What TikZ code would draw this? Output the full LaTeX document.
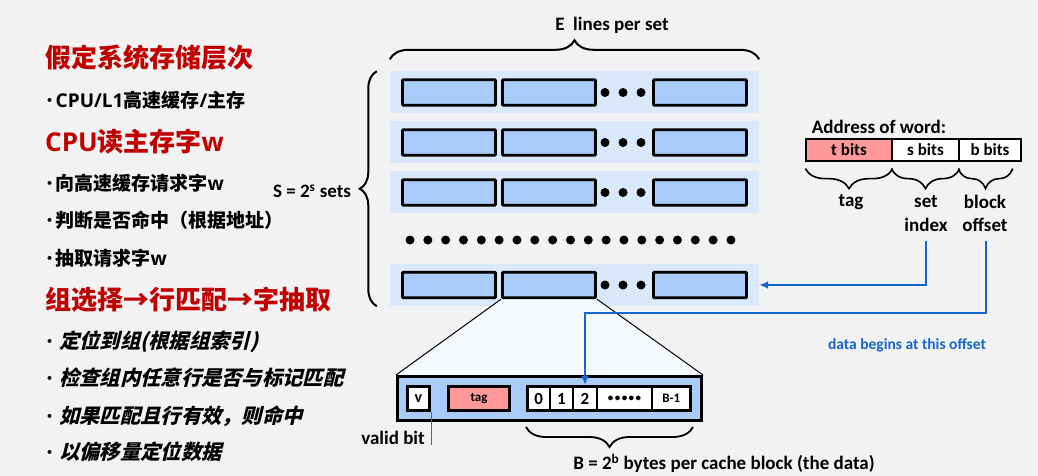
\documentclass[tikz,border=0pt]{standalone}
\usepackage{fontspec}
\setmainfont{Carlito}
\newfontfamily\cjk{Noto Sans CJK SC}
\newfontfamily\cjkit{Noto Sans CJK SC}[FakeSlant=0.25]
\newfontfamily\lat{Open Sans}
\newfontfamily\dvs{DejaVu Sans}
\usetikzlibrary{decorations.pathreplacing,arrows.meta,calc}
\definecolor{pagebg}{RGB}{242,242,242}
\definecolor{rowfill}{RGB}{218,232,252}
\definecolor{cellfill}{RGB}{169,203,248}
\definecolor{pinkfill}{RGB}{255,153,153}
\definecolor{ttl}{RGB}{192,0,0}
\definecolor{arw}{RGB}{21,101,204}
\definecolor{trapfill}{RGB}{246,250,255}
\pgfdeclarelayer{back}
\pgfdeclarelayer{mid}
\pgfsetlayers{back,mid,main}
\newcommand{\bdot}{\raisebox{3.2pt}{\dvs\fontsize{11}{11}\selectfont •}\hspace{2.5pt}}
\newcommand{\bdotit}{\raisebox{3.2pt}{\dvs\fontsize{11}{11}\selectfont •}\hspace{6pt}}
\begin{document}
\begin{tikzpicture}[x=1pt,y=-1pt,
  rowbg/.style={fill=rowfill,minimum width=369pt,minimum height=42pt,inner sep=0pt},
  rowbox/.style={draw=black,line width=2.9pt,fill=cellfill,rounded corners=1pt,minimum width=93pt,minimum height=25.5pt,inner sep=0pt},
  dotc/.style={circle,fill=black,minimum size=9pt,inner sep=0pt},
  lbl/.style={font=\fontsize{19}{22}\selectfont\bfseries,inner sep=0pt},
  addr/.style={draw=black,line width=1.3pt,minimum height=22pt,inner sep=0pt,font=\fontsize{17}{20}\selectfont\bfseries},
  cellc/.style={draw=black,line width=2.8pt,fill=white,minimum height=24.4pt,inner sep=0pt},
  brc/.style={decorate,decoration={brace,amplitude=#1},line width=2pt},
  brc/.default=19pt,
  arwline/.style={draw=arw,line width=2.6pt,-{Latex[length=9pt,width=8pt]}},
  ttlt/.style={anchor=west,inner sep=0pt,text=ttl,font=\cjk\fontsize{26}{28}\selectfont\bfseries},
  bodyt/.style={anchor=west,inner sep=0pt,font=\cjk\fontsize{19}{22}\selectfont\bfseries},
  itt/.style={anchor=west,inner sep=0pt,font=\cjkit\fontsize{20.3}{22}\selectfont\bfseries}
]
\begin{pgfonlayer}{back}
\fill[pagebg] (0,0) rectangle (1038,476);
\end{pgfonlayer}
\useasboundingbox (0,0) rectangle (1038,476);

% ---------- left text ----------
\node[ttlt] (t1) at (45,58) {假定系统存储层次};
\node[bodyt] (t2) at (46,100) {\bdot{\lat CPU/L1}高速缓存{\lat /}主存};
\node[ttlt] (t3) at (45,142) {{\lat CPU}读主存字{\lat w}};
\node[bodyt] (t4) at (46,183) {\bdot 向高速缓存请求字{\lat w}};
\node[bodyt] (t5) at (46,220) {\bdot 判断是否命中（根据地址）};
\node[bodyt] (t6) at (46,258) {\bdot 抽取请求字{\lat w}};
\node[ttlt] (t7) at (45,300) {组选择→行匹配→字抽取};
\node[itt] (t8) at (46,342) {\bdotit 定位到组(根据组索引)};
\node[itt] (t9) at (46,378) {\bdotit 检查组内任意行是否与标记匹配};
\node[itt] (t10) at (46,416) {\bdotit 如果匹配且行有效，则命中};
\node[itt] (t11) at (46,452) {\bdotit 以偏移量定位数据};

% ---------- cache sets ----------
\begin{pgfonlayer}{back}
\foreach \n/\y in {1/92.5,2/142,3/192,4/285}{
  \node[rowbg] (bg\n) at (574.5,\y) {};
}
\end{pgfonlayer}
\foreach \n/\y in {1/92.5,2/142.5,3/192.5,4/285}{
  \node[rowbox] (a\n) at (449,\y) {};
  \node[rowbox] (b\n) at (549,\y) {};
  \node[rowbox] (c\n) at (700,\y) {};
  \node[dotc] (p\n) at (605,\y) {};
  \node[dotc] (q\n) at (623,\y) {};
  \node[dotc] (r\n) at (641,\y) {};
}
\foreach \i in {0,...,18}{
  \node[dotc] (m\i) at ({410+\i*17.83},240) {};
}

% top brace and label
\draw[brc=19pt] ([yshift=12pt]bg1.north west) -- ([yshift=12pt]bg1.north east);
\node[lbl] (elines) at (612,25) {E\ \ lines per set};
% left brace and label
\draw[brc=17pt] ([xshift=-13pt]bg4.south west) -- ([xshift=-13pt]bg1.north west);
\node[lbl] (ssets) at (312,191) {S = 2\textsuperscript{s} sets};

% ---------- address ----------
\node[lbl] (addrt) at (879,127) {Address of word:};
\node[addr,fill=pinkfill,minimum width=86pt] (ta) at (849,150) {t bits};
\node[addr,fill=white,minimum width=67pt] (sa) at (925.5,150) {s bits};
\node[addr,fill=white,minimum width=62pt] (ba) at (990,150) {b bits};
\draw[brc=20pt,line width=1.6pt] ([yshift=-7pt]ta.south east) -- ([yshift=-7pt]ta.south west);
\draw[brc=20pt,line width=1.6pt] ([yshift=-7pt]sa.south east) -- ([yshift=-7pt]sa.south west);
\draw[brc=20pt,line width=1.6pt] ([yshift=-7pt,xshift=-9pt]ba.south east) -- ([yshift=-7pt]ba.south west);
\node[lbl] (tagl) at (851,202) {tag};
\node[lbl] (setl) at (926,202) {set};
\node[lbl] (idx) at (926,225) {index};
\node[lbl] (blkl) at (985,202) {block};
\node[lbl] (off) at (985,225) {offset};
\node[inner sep=0pt,text=arw,font=\fontsize{15.5}{17}\selectfont\bfseries] (dbeg) at (907,345) {data begins at this offset};

% ---------- expanded line ----------
\node[draw=black,line width=3pt,fill=cellfill,minimum width=304pt,minimum height=44pt,inner sep=0pt] (blk) at (549.5,398.5) {};
\node[cellc,minimum width=22.4pt,font=\fontsize{16}{18}\selectfont\bfseries] (v) at (418.5,398.5) {v};
\node[cellc,fill=pinkfill,minimum width=61.4pt,font=\fontsize{13}{15}\selectfont\bfseries] (tagc) at (479,398.5) {tag};
\node[cellc,minimum width=22.7pt,font=\fontsize{17}{19}\selectfont\bfseries] (c0) at (538.65,398.5) {0};
\node[cellc,minimum width=23pt,font=\fontsize{17}{19}\selectfont\bfseries] (c1) at (561.5,398.5) {1};
\node[cellc,minimum width=24pt,font=\fontsize{17}{19}\selectfont\bfseries] (c2) at (585,398.5) {2};
\node[cellc,minimum width=55pt,font=\fontsize{11}{13}\selectfont\bfseries] (cd) at (624.5,398.5) {•\kern1.5pt•\kern1.5pt•\kern1.5pt•\kern1.5pt•};
\node[cellc,minimum width=38.7pt,font=\fontsize{13}{15}\selectfont\bfseries] (cB) at (671.35,398.5) {B-1};

\begin{pgfonlayer}{mid}
\fill[trapfill] (b4.south west) -- (b4.south east) -- (blk.north east) -- (blk.north west) -- cycle;
\draw[line width=1pt] (b4.south west) -- (blk.north west);
\draw[line width=1pt] (b4.south east) -- (blk.north east);
\end{pgfonlayer}

\node[lbl] (vb) at (393,438) {valid bit};
\draw[black!60,line width=1pt] (v.south east) -- (v.south east |- vb.south);
\draw[brc=20pt,line width=1.8pt] (693,427) -- (526,427);
\node[lbl] (bsize) at (724,463) {B = 2\textsuperscript{b} bytes per cache block (the data)};

% ---------- connectors ----------
\draw[arwline] ([yshift=-9pt]idx.south) |- (bg4.east);
\draw[arwline] ([yshift=-9pt,xshift=1pt]off.south) |- ([yshift=72pt]c2.north) -- (c2.north);
\end{tikzpicture}
\end{document}
